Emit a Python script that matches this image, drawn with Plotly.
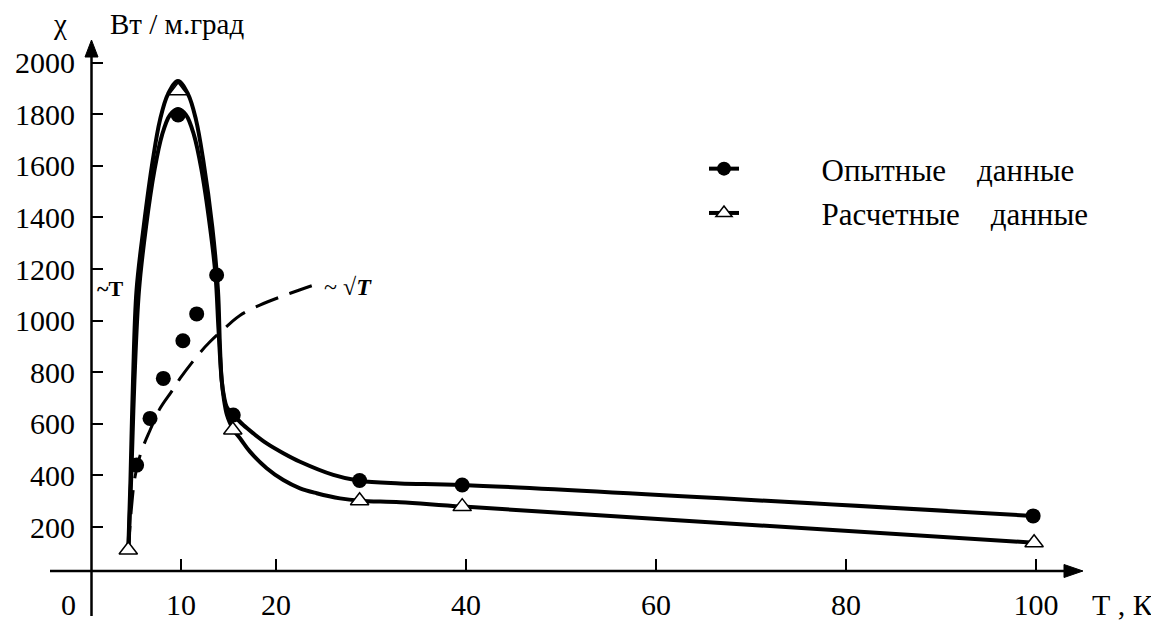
import plotly.graph_objects as go

# ---------------- data ----------------
# experimental points (filled circles)
T_exp = [5.33, 6.74, 8.14, 9.70, 10.2, 11.65, 13.75, 15.5, 28.8, 39.6, 99.7]
chi_exp = [440, 621, 776, 1797, 922, 1026, 1177, 634, 380, 363, 243]
# calculated points (open triangles)
T_calc = [4.45, 9.7, 15.45, 28.8, 39.6, 99.8]
chi_calc = [111, 1891, 576, 302, 279, 139]

# smooth curve through experimental data
T_exp_curve = [4.47, 4.79, 5.10, 5.58, 6.32, 7.21, 8.0, 8.84, 9.68, 10.53, 11.37, 12.16,
               13.05, 13.63, 13.95, 14.28, 14.53, 14.81, 15.34, 15.86, 16.56, 17.61,
               19.02, 20.77, 22.53, 26.03, 28.77, 33.05, 39.66, 99.7]
chi_exp_curve = [111, 421, 770, 1118, 1364, 1584, 1719, 1797, 1820, 1797, 1719, 1584,
                 1364, 1177, 964, 770, 705, 666, 641, 621, 595, 563,
                 524, 486, 453, 402, 379, 369, 363, 243]
# smooth curve through calculated data
T_calc_curve = [4.45, 4.68, 4.95, 5.32, 6.07, 7.03, 7.79, 8.63, 9.68, 10.74, 11.58, 12.34,
                13.29, 13.89, 14.1, 14.28, 14.53, 14.84, 15.16, 15.51, 16.21, 17.26,
                19.02, 20.77, 22.53, 24.28, 26.74, 28.84, 33.05, 39.68, 99.8]
chi_calc_curve = [111, 382, 770, 1118, 1364, 1622, 1778, 1878, 1929, 1878, 1778, 1622,
                  1364, 1118, 900, 770, 692, 634, 603, 576, 544, 492,
                  428, 382, 350, 331, 311, 302, 296, 279, 139]
# ~sqrt(T) dashed guide
T_sqrt = [4.45, 4.8, 5.16, 5.8, 6.74, 7.8, 9.0, 9.9, 11.8, 13.05, 15.2, 16.2, 18.3, 21.5, 24.0]
chi_sqrt = [111, 280, 395, 490, 575, 660, 725, 776, 867, 918, 990, 1020, 1060, 1106, 1138]

x_ticks = [10, 20, 40, 60, 80, 100]
y_ticks = [200, 400, 600, 800, 1000, 1200, 1400, 1600, 1800, 2000]

NB = "\u00a0"
series_names = [NB * 10 + "Опытные" + NB * 4 + "данные",
                NB * 10 + "Расчетные" + NB * 4 + "данные"]

# ---------------- layout geometry (reference-image pixels) ----------------
PAGE_OFF = 8                          # browser default body margin
W, H = 1159 - PAGE_OFF, 621 - PAGE_OFF
L, R, TOP, BOT = 92, 1100, 30, 571   # plot area in page pixels
PX0, PXK = 86.0, 9.5                 # pixel = PX0 + PXK*T
PY0, PYK = 578.6, 1 / 3.876          # pixel = PY0 - PYK*chi

xr = [(L - PX0) / PXK, (R - PX0) / PXK]
yr = [(PY0 - BOT) / PYK, (PY0 - TOP) / PYK]


def px(x):
    return (x - L) / (R - L)


def py(y):
    return (BOT - y) / (BOT - TOP)


FONT = "Liberation Serif"
BLACK = "black"

fig = go.Figure()

fig.add_trace(go.Scatter(x=T_sqrt, y=chi_sqrt, mode="lines", line_shape="spline",
                         line=dict(color=BLACK, width=3, dash="24px,12px"),
                         showlegend=False, hoverinfo="skip"))
fig.add_trace(go.Scatter(x=T_calc_curve, y=chi_calc_curve, mode="lines", line_shape="spline",
                         line=dict(color=BLACK, width=4), showlegend=False))
fig.add_trace(go.Scatter(x=T_exp_curve, y=chi_exp_curve, mode="lines", line_shape="spline",
                         line=dict(color=BLACK, width=4), showlegend=False))
fig.add_trace(go.Scatter(x=T_exp, y=chi_exp, mode="markers",
                         marker=dict(symbol="circle", size=15, color=BLACK),
                         showlegend=False))
fig.add_trace(go.Scatter(x=T_calc, y=chi_calc, mode="markers",
                         marker=dict(symbol="triangle-up", size=16, color="white",
                                     line=dict(color=BLACK, width=1.5)),
                         showlegend=False))
# legend proxies
fig.add_trace(go.Scatter(x=[None], y=[None], mode="lines+markers", name=series_names[0],
                         legendgroup="a",
                         line=dict(color=BLACK, width=4),
                         marker=dict(symbol="circle", size=14, color=BLACK)))
fig.add_trace(go.Scatter(x=[None], y=[None], mode="lines+markers", name=series_names[1],
                         legendgroup="b",
                         line=dict(color=BLACK, width=4),
                         marker=dict(symbol="triangle-up", size=14, color="white",
                                     line=dict(color=BLACK, width=1.5))))

shapes = [
    # y axis (extends below x axis)
    dict(type="line", xref="paper", yref="paper", x0=px(91.5), x1=px(91.5),
         y0=py(616), y1=py(50), line=dict(color=BLACK, width=2.5)),
    # x axis (extends left of y axis)
    dict(type="line", xref="paper", yref="paper", x0=px(50), x1=px(1070),
         y0=py(571), y1=py(571), line=dict(color=BLACK, width=2.5)),
    # arrow heads
    dict(type="path", xref="paper", yref="paper",
         path=f"M {px(91.5)},{py(40)} L {px(85)},{py(57)} L {px(98)},{py(57)} Z",
         fillcolor=BLACK, line=dict(color=BLACK, width=1)),
    dict(type="path", xref="paper", yref="paper",
         path=f"M {px(1083)},{py(571)} L {px(1064)},{py(564.5)} L {px(1064)},{py(577.5)} Z",
         fillcolor=BLACK, line=dict(color=BLACK, width=1)),
]

annotations = [
    dict(text="χ", x=px(60), y=py(24), xanchor="center", yanchor="middle",
         font=dict(family=FONT, size=29)),
    dict(text="Вт / м.град", x=px(108), y=py(24), xanchor="left", yanchor="middle",
         font=dict(family=FONT, size=29)),
    dict(text="0", x=px(68), y=py(604), xanchor="center", yanchor="middle",
         font=dict(family=FONT, size=30)),
    dict(text="Т , К", x=px(1090), y=py(604), xanchor="left", yanchor="middle",
         font=dict(family=FONT, size=30)),
    dict(text="<b>~T</b>", x=px(95), y=py(288), xanchor="left", yanchor="middle",
         font=dict(family=FONT, size=22)),
    dict(text="~ √<b><i>T</i></b>", x=px(322), y=py(287), xanchor="left", yanchor="middle",
         font=dict(family=FONT, size=24)),
]
for a in annotations:
    a.update(xref="paper", yref="paper", showarrow=False)

fig.update_layout(
    template="none",
    width=W, height=H,
    margin=dict(l=L - PAGE_OFF, r=W + PAGE_OFF - R, t=TOP - PAGE_OFF,
                b=H + PAGE_OFF - BOT, pad=0, autoexpand=False),
    paper_bgcolor="white", plot_bgcolor="white",
    font=dict(family=FONT, color="black", size=30),
    shapes=shapes, annotations=annotations,
    legend=dict(x=px(704), y=py(142), xanchor="left", yanchor="top",
                bgcolor="rgba(0,0,0,0)", font=dict(family=FONT, size=31),
                traceorder="grouped", tracegroupgap=1),
    xaxis=dict(range=xr, tickvals=x_ticks, ticktext=[str(v) for v in x_ticks],
               ticks="inside", ticklen=12, tickwidth=1.5, tickcolor=BLACK,
               showgrid=False, zeroline=False, showline=False,
               ticklabelstandoff=13, tickfont=dict(size=30, family=FONT)),
    yaxis=dict(range=yr, tickvals=y_ticks, ticktext=[str(v) for v in y_ticks],
               ticks="inside", ticklen=11, tickwidth=1.5, tickcolor=BLACK,
               showgrid=False, zeroline=False, showline=False,
               ticklabelstandoff=16, tickfont=dict(size=30, family=FONT)),
)

fig.write_html("out.html")
